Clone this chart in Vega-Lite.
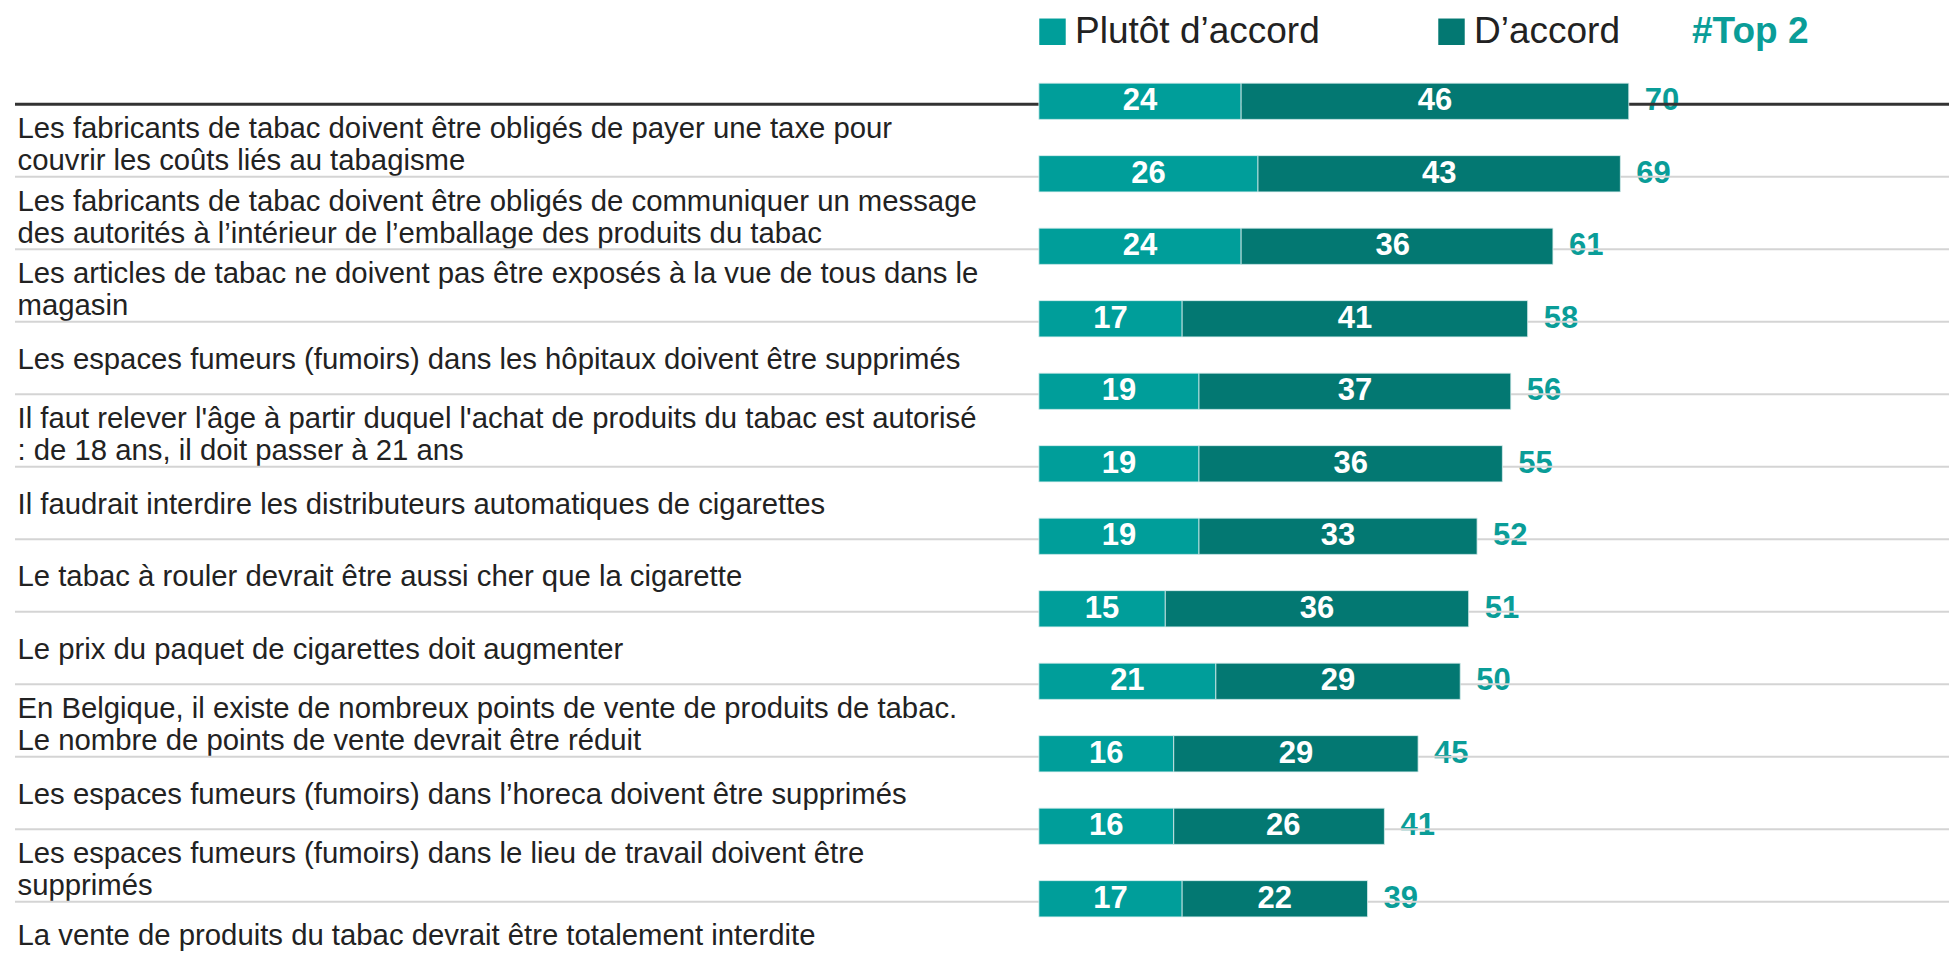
{
  "$schema": "https://vega.github.io/schema/vega-lite/v6.json",
  "autosize": {"type": "none"},
  "padding": {"left": 15, "top": 65, "right": 0, "bottom": 18},
  "width": 1934,
  "height": 870,
  "background": "white",
  "config": {
    "view": {"stroke": null},
    "font": "Liberation Sans"
  },
  "data": {
    "values": [
      {"item": "Les fabricants de tabac doivent être obligés de payer une taxe pour|couvrir les coûts liés au tabagisme", "plutot": 24, "daccord": 46, "total": 70},
      {"item": "Les fabricants de tabac doivent être obligés de communiquer un message|des autorités à l’intérieur de l’emballage des produits du tabac", "plutot": 26, "daccord": 43, "total": 69},
      {"item": "Les articles de tabac ne doivent pas être exposés à la vue de tous dans le|magasin", "plutot": 24, "daccord": 36, "total": 61},
      {"item": "Les espaces fumeurs (fumoirs) dans les hôpitaux doivent être supprimés", "plutot": 17, "daccord": 41, "total": 58},
      {"item": "Il faut relever l'âge à partir duquel l'achat de produits du tabac est autorisé|: de 18 ans, il doit passer à 21 ans", "plutot": 19, "daccord": 37, "total": 56},
      {"item": "Il faudrait interdire les distributeurs automatiques de cigarettes", "plutot": 19, "daccord": 36, "total": 55},
      {"item": "Le tabac à rouler devrait être aussi cher que la cigarette", "plutot": 19, "daccord": 33, "total": 52},
      {"item": "Le prix du paquet de cigarettes doit augmenter", "plutot": 15, "daccord": 36, "total": 51},
      {"item": "En Belgique, il existe de nombreux points de vente de produits de tabac.|Le nombre de points de vente devrait être réduit", "plutot": 21, "daccord": 29, "total": 50},
      {"item": "Les espaces fumeurs (fumoirs) dans l’horeca doivent être supprimés", "plutot": 16, "daccord": 29, "total": 45},
      {"item": "Les espaces fumeurs (fumoirs) dans le lieu de travail doivent être|supprimés", "plutot": 16, "daccord": 26, "total": 41},
      {"item": "La vente de produits du tabac devrait être totalement interdite", "plutot": 17, "daccord": 22, "total": 39}
    ]
  },
  "transform": [{"window": [{"op": "row_number", "as": "rank"}]}],
  "resolve": {"scale": {"color": "independent"}, "legend": {"color": "independent"}},
  "encoding": {
    "y": {
      "field": "item",
      "type": "nominal",
      "sort": null,
      "scale": {"paddingInner": 0.5, "paddingOuter": 0.25},
      "axis": {
        "title": null,
        "domain": false,
        "ticks": false,
        "grid": false,
        "labelAlign": "left",
        "labelBaseline": "middle",
        "labelPadding": -2,
        "labelOffset": {"condition": [{"test": "indexof(datum.label, '|') >= 0", "value": 28}, {"test": "datum.index === 1", "value": 37}], "value": 41},
        "labelFontSize": 29.3,
        "labelLineHeight": 32,
        "labelColor": "#222222",
        "labelFont": "Liberation Sans",
        "labelLimit": 0,
        "labelOverlap": false,
        "labelBound": false,
        "labelExpr": "split(datum.label, '|')"
      }
    }
  },
  "layer": [
    {
      "mark": {"type": "text", "align": "left", "baseline": "middle", "dx": 16, "fontSize": 31, "fontWeight": "bold", "font": "Liberation Sans"},
      "encoding": {
        "x": {"field": "total", "type": "quantitative", "scale": {"domain": [-121.5, 108], "nice": false, "zero": false}, "axis": null},
        "text": {"field": "total", "type": "quantitative"},
        "color": {
          "datum": "#Top 2",
          "type": "nominal",
          "scale": {"domain": ["#Top 2"], "range": ["#0a9d98"]},
          "legend": {
            "title": null,
            "orient": "none",
            "legendX": 1640,
            "legendY": -52,
            "padding": 0,
            "symbolType": "square",
            "symbolSize": 1,
            "symbolOpacity": 0,
            "labelFontSize": 37,
            "labelFontWeight": "bold",
            "labelFont": "Liberation Sans",
            "labelColor": "#0a9d98",
            "labelOffset": 0,
            "labelLimit": 0
          }
        }
      }
    },
    {
      "mark": {"type": "rule", "yOffset": 3},
      "encoding": {
        "color": {"condition": {"test": "datum.rank === 1", "value": "#333333"}, "value": "#d4d4d4"},
        "strokeWidth": {"condition": {"test": "datum.rank === 1", "value": 3}, "value": 2}
      }
    },
    {
      "layer": [
        {
          "mark": {"type": "bar", "stroke": "#d8eeee", "strokeWidth": 0.8},
          "encoding": {
            "x": {"field": "plutot", "type": "quantitative"},
            "x2": {"datum": 0},
            "color": {
              "datum": "Plutôt d’accord",
              "type": "nominal",
              "scale": {"domain": ["Plutôt d’accord", "D’accord"], "range": ["#009e9a", "#037872"]},
              "legend": {
                "title": null,
                "orient": "none",
                "legendX": 1019,
                "legendY": -52,
                "direction": "horizontal",
                "padding": 0,
                "symbolType": "square",
                "symbolSize": 700,
                "symbolStrokeWidth": 0,
                "symbolOpacity": 1,
                "labelFontSize": 37,
                "labelFont": "Liberation Sans",
                "labelColor": "#222222",
                "labelOffset": 4,
                "labelLimit": 0,
                "columnPadding": 113
              }
            }
          }
        },
        {
          "mark": {"type": "bar", "stroke": "#d8eeee", "strokeWidth": 0.8},
          "encoding": {
            "x": {"field": "plutot", "type": "quantitative"},
            "x2": {"field": "total"},
            "color": {"datum": "D’accord", "type": "nominal"}
          }
        }
      ]
    },
    {
      "transform": [{"fold": ["plutot", "daccord"], "as": ["segment", "value"]}],
      "mark": {"type": "text", "align": "center", "baseline": "middle", "fontSize": 31, "fontWeight": "bold", "font": "Liberation Sans", "color": "white"},
      "encoding": {
        "x": {"field": "value", "type": "quantitative", "stack": "zero", "bandPosition": 0.5},
        "order": {"field": "segment", "sort": "descending"},
        "text": {"field": "value", "type": "quantitative"}
      }
    }
  ]
}
